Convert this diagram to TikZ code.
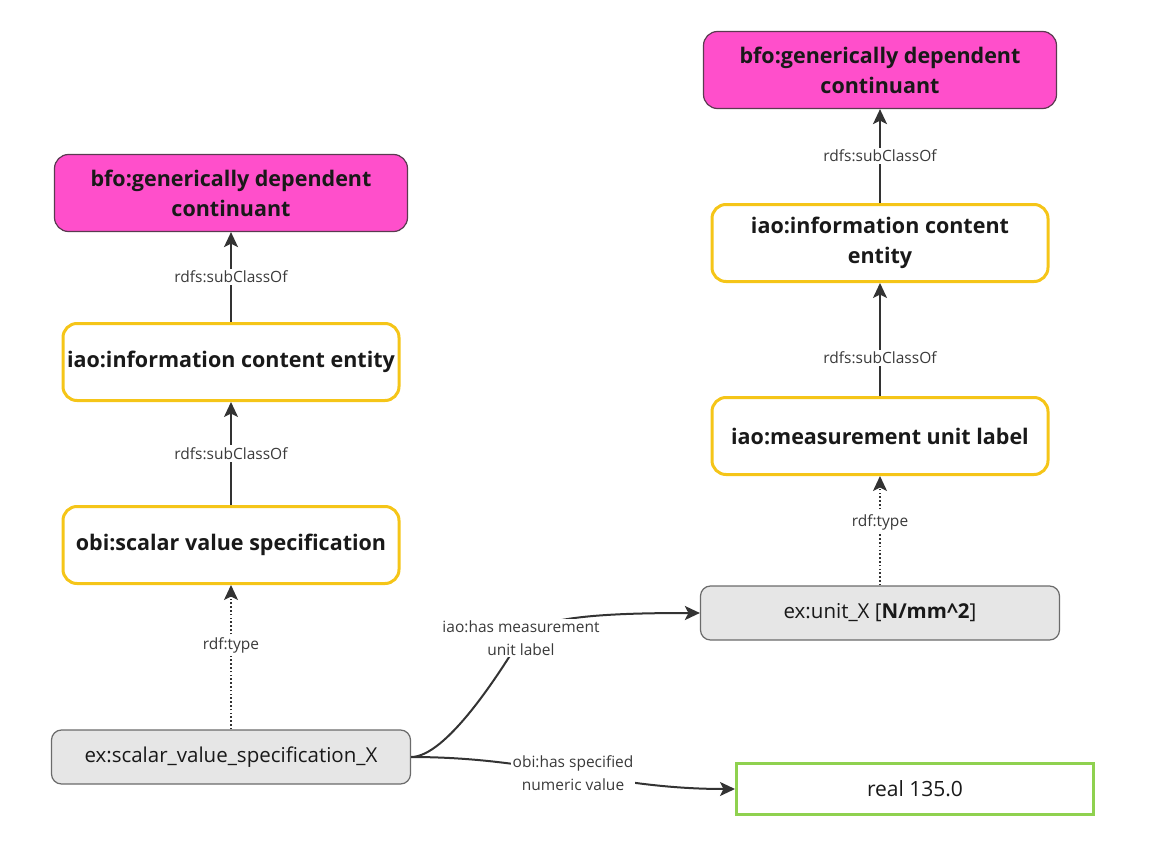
\documentclass[tikz,border=0pt]{standalone}
\usepackage{fontspec}
\setmainfont{Open Sans}
\usetikzlibrary{arrows.meta}
\definecolor{gdcpink}{HTML}{FF4FCB}
\definecolor{gdcborder}{HTML}{5A3A50}
\definecolor{clsyellow}{HTML}{F5C518}
\definecolor{instgrey}{HTML}{E6E6E6}
\definecolor{instborder}{HTML}{6B6B6B}
\definecolor{litgreen}{HTML}{8FD14F}
\definecolor{arrowgrey}{HTML}{333333}
\definecolor{labelgrey}{HTML}{3A3A3A}
\begin{document}
\begin{tikzpicture}[x=1pt,y=-1pt,
    cls/.style={draw=clsyellow, line width=3pt, rounded corners=14pt, fill=white,
      minimum width=336pt, minimum height=77pt, align=center, text=black!90,
      font=\fontsize{21.5}{30}\selectfont\bfseries},
    gdcbox/.style={cls, draw=gdcborder, line width=1.2pt, fill=gdcpink, minimum width=353pt},
    inst/.style={draw=instborder, line width=1.2pt, rounded corners=10pt, fill=instgrey,
      minimum width=359pt, minimum height=54pt, text=black!90, font=\fontsize{20.5}{24}\selectfont},
    lit/.style={draw=litgreen, line width=3pt, fill=white, minimum width=357pt,
      minimum height=51pt, text=black!90, font=\fontsize{21}{24}\selectfont},
    rel/.style={-{Stealth[length=15pt,width=14pt,inset=3.5pt]}, line width=2pt, draw=arrowgrey},
    typ/.style={rel, line width=1.6pt, dash pattern=on 1.6pt off 2.2pt},
    lbl/.style={fill=white, text=labelgrey, inner sep=2pt, align=center,
      font=\fontsize{15.5}{23}\selectfont}]
  \useasboundingbox (0,0) rectangle (1152,851);
  % left column
  \node[gdcbox] (gdc)  at (231,193) {bfo:generically dependent\\continuant};
  \node[cls]    (ice)  at (231,362) {iao:information content entity};
  \node[cls]    (svsc) at (231,545) {obi:scalar value specification};
  \node[inst]   (svs)  at (231,757) {ex:scalar\_value\_specification\_X};
  % right column
  \node[gdcbox] (gdc2) at (880,70)  {bfo:generically dependent\\continuant};
  \node[cls]    (ice2) at (880,243) {iao:information content\\entity};
  \node[cls]    (mul)  at (880,436) {iao:measurement unit label};
  \node[inst]   (unit) at (880,613) {ex:unit\_X [\textbf{N/mm\textasciicircum2}]};
  \node[lit]    (val)  at (915,789) {real 135.0};
  % subclass and type links
  \foreach \a/\b/\p in {ice/gdc/0.5, svsc/ice/0.5, ice2/gdc2/0.5, mul/ice2/0.34}
    \draw[rel] (\a) -- node[lbl,pos=\p] {rdfs:subClassOf} (\b);
  \foreach \a/\b in {svs/svsc, unit/mul}
    \draw[typ] (\a) -- node[lbl,pos=0.58] {rdf:type} (\b);
  % object and data properties
  \coordinate (hmuc) at (521,638);
  \draw[rel] (svs.east) .. controls +(35,0) and +(-22,36) .. (hmuc)
    .. controls +(14,-22) and +(-90,0) .. (unit.west);
  \node[lbl] (hmu) at (hmuc) {iao:has measurement\\unit label};
  \draw[rel] (svs.east) to[out=0,in=180]
    node[lbl] (hsv) {obi:has specified\\numeric value} (val.west);
\end{tikzpicture}
\end{document}
